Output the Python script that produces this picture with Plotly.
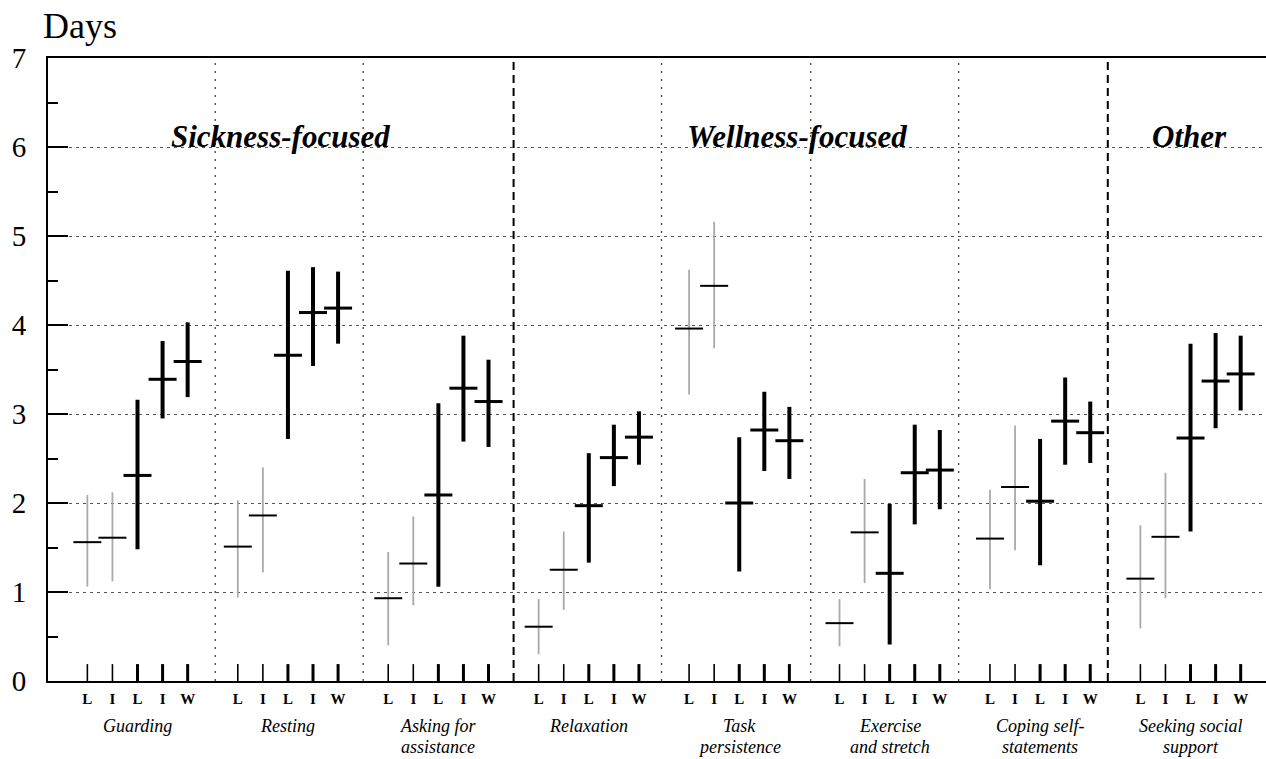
import plotly.graph_objects as go

# ---------------- data ----------------
groups = ["Guarding", "Resting", "Asking for<br>assistance", "Relaxation",
          "Task<br>persistence", "Exercise<br>and stretch",
          "Coping self-<br>statements", "Seeking social<br>support"]
bar_labels = ["L", "I", "L", "I", "W"]

# grey L
mean_L1 = [1.56, 1.51, 0.93, 0.61, 3.96, 0.65, 1.60, 1.15]
lo_L1 = [1.06, 0.94, 0.40, 0.30, 3.22, 0.39, 1.03, 0.59]
hi_L1 = [2.09, 2.03, 1.45, 0.92, 4.62, 0.92, 2.15, 1.75]
# grey I
mean_I1 = [1.61, 1.86, 1.32, 1.25, 4.44, 1.67, 2.18, 1.62]
lo_I1 = [1.12, 1.22, 0.85, 0.80, 3.74, 1.10, 1.47, 0.93]
hi_I1 = [2.12, 2.40, 1.85, 1.68, 5.16, 2.27, 2.87, 2.34]
# black L
mean_L2 = [2.31, 3.66, 2.09, 1.97, 2.00, 1.21, 2.02, 2.73]
lo_L2 = [1.48, 2.72, 1.06, 1.33, 1.23, 0.41, 1.30, 1.68]
hi_L2 = [3.16, 4.61, 3.12, 2.56, 2.74, 1.99, 2.72, 3.79]
# black I
mean_I2 = [3.39, 4.14, 3.29, 2.51, 2.82, 2.34, 2.92, 3.37]
lo_I2 = [2.95, 3.54, 2.69, 2.19, 2.36, 1.76, 2.43, 2.84]
hi_I2 = [3.82, 4.65, 3.88, 2.88, 3.25, 2.88, 3.41, 3.91]
# black W
mean_W = [3.59, 4.19, 3.14, 2.74, 2.70, 2.37, 2.79, 3.45]
lo_W = [3.19, 3.79, 2.63, 2.43, 2.27, 1.93, 2.45, 3.04]
hi_W = [4.03, 4.60, 3.61, 3.03, 3.08, 2.82, 3.14, 3.88]

categories = ["Sickness-focused", "Wellness-focused", "Other"]
y_ticks = [0, 1, 2, 3, 4, 5, 6, 7]

# ---------------- layout helpers ----------------
FONT = "Liberation Serif"
STEP = 6  # positions per group (5 bars + gap)
n = len(groups)
PLOT_H = 759 - 58 - 78  # plot area height in px

series = [
    (mean_L1, lo_L1, hi_L1, True),
    (mean_I1, lo_I1, hi_I1, True),
    (mean_L2, lo_L2, hi_L2, False),
    (mean_I2, lo_I2, hi_I2, False),
    (mean_W, lo_W, hi_W, False),
]

fig = go.Figure()

# bottom tick marks
for thin in (True, False):
    xs, ys = [], []
    for g in range(n):
        for j in range(5):
            if (j < 2) == thin:
                p = STEP * g + j
                xs += [p, p, None]
                ys += [0, 0.19, None]
    fig.add_trace(go.Scatter(x=xs, y=ys, mode="lines",
                             line=dict(color="black", width=1.6 if thin else 3),
                             hoverinfo="skip", showlegend=False))

# range bars with mean ticks
for j, (m, lo, hi, grey) in enumerate(series):
    xs = [STEP * g + j for g in range(n)]
    fig.add_trace(go.Scatter(
        x=xs, y=m, mode="markers", showlegend=False,
        marker=dict(symbol="line-ew", size=20, color="black",
                    line=dict(width=2 if grey else 3, color="black")),
        error_y=dict(type="data", symmetric=False,
                     array=[h - v for h, v in zip(hi, m)],
                     arrayminus=[v - l for v, l in zip(m, lo)],
                     thickness=1.8 if grey else 4, width=0,
                     color="#a9a9a9" if grey else "black"),
    ))

# group separators
dashed_after = {2, 6}
sep_pos = [5.1, 11.0, 17.0, 22.9, 28.85, 34.75, 40.7]
for g, sx in enumerate(sep_pos):
    if g in dashed_after:
        line = dict(color="black", width=2, dash="8px,5px")
    else:
        line = dict(color="#444", width=1.3, dash="2px,6px")
    fig.add_shape(type="line", xref="x", yref="paper", x0=sx, x1=sx, y0=0, y1=1,
                  line=line, layer="below")

# group names (each line placed separately)
line_px = [726, 747]  # pixel centers of the two lines
for g, name in enumerate(groups):
    for k, part in enumerate(name.split("<br>")):
        fig.add_annotation(x=STEP * g + 2, xref="x",
                           y=(681 - line_px[k]) / PLOT_H, yref="paper",
                           yanchor="middle", xanchor="center", showarrow=False,
                           text=f"<i>{part}</i>",
                           font=dict(family=FONT, size=18, color="black"))

# category headings
cat_x = [7.7, 28.3, 43.95]
for c, cx in zip(categories, cat_x):
    fig.add_annotation(x=cx, xref="x", y=6.12, yref="y", showarrow=False,
                       text=f"<b><i>{c}</i></b>", xanchor="center", yanchor="middle",
                       font=dict(family=FONT, size=31, color="black"))

# "Days" title
fig.add_annotation(x=-0.006, xref="paper", xanchor="left", y=1.052, yref="paper",
                   yanchor="middle", showarrow=False, text="Days",
                   font=dict(family=FONT, size=36, color="black"))

tickvals = [STEP * g + j for g in range(n) for j in range(5)]
ticktext = [bar_labels[j] for g in range(n) for j in range(5)]

fig.update_xaxes(range=[-1.57, 47.01], tickvals=tickvals, ticktext=ticktext,
                 tickfont=dict(family=FONT, size=15, color="black", weight="bold"),
                 ticks="", ticklabelstandoff=3, showgrid=False, zeroline=False,
                 showline=True, linecolor="black", linewidth=1.8, mirror=True)
fig.update_yaxes(range=[0, 7], tickvals=y_ticks, ticks="inside", ticklen=20,
                 tickwidth=2, tickcolor="black",
                 tickfont=dict(family=FONT, size=29, color="black"),
                 ticklabelstandoff=14,
                 minor=dict(dtick=0.5, ticks="inside", ticklen=10, tickwidth=2,
                            tickcolor="black", showgrid=False),
                 showgrid=True, gridcolor="#555", gridwidth=1, griddash="3px,4px",
                 zeroline=False, showline=True, linecolor="black", linewidth=2)

fig.update_layout(width=1266, height=759,
                  margin=dict(l=48, r=0, t=58, b=78),
                  plot_bgcolor="white", paper_bgcolor="white",
                  font=dict(family=FONT, color="black"))

fig.write_html("out.html", config={"displayModeBar": False},
               post_script="document.body.style.margin='0';")
